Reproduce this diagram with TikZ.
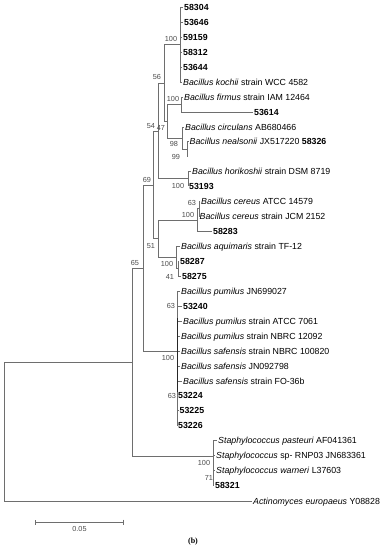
\documentclass[tikz,border=0pt]{standalone}
\usepackage{fontspec}
\setmainfont{Liberation Sans}
\newfontfamily\capfont{Liberation Serif}
\usepackage{tikz}
\usetikzlibrary{arrows.meta}
\definecolor{branch}{RGB}{110,110,110}
\definecolor{bootc}{RGB}{75,75,75}

\tikzset{
  taxon/.style={anchor=west, inner sep=1pt, text height=6pt, text depth=0pt,
    font=\fontsize{8.8}{10}\selectfont},
  bs/.style={inner sep=0pt, text=bootc, font=\fontsize{7.3}{8}\selectfont},
  br/.style={draw=branch, line width=0.8pt},
}

\begin{document}
\begin{tikzpicture}[x=1pt, y=-1pt]
  \useasboundingbox (0,0) rectangle (385,550);
  \fill[white] (0,0) rectangle (385,550);

  % Internal nodes
  \coordinate (R)   at (4,432);
  \coordinate (Nin) at (132,362.5);
  \coordinate (N65) at (143,268.5);
  \coordinate (N69) at (153,185);
  \coordinate (N54) at (158,131);
  \coordinate (N56) at (164,83);
  \coordinate (Nko) at (180,44.5);
  \coordinate (N47) at (167,121.5);
  \coordinate (Nfi) at (181,104.5);
  \coordinate (N98) at (182,138);
  \coordinate (N99) at (187,149);
  \coordinate (h58326) at (187.5,156);
  \coordinate (Nho) at (188,178.5);
  \coordinate (N51) at (158,238.5);
  \coordinate (Nce) at (197,220);
  \coordinate (N63c) at (199,208.5);
  \coordinate (Naq) at (176,257);
  \coordinate (N41) at (178,268.5);
  \coordinate (Npu) at (177,351);
  \coordinate (N63b) at (177.5,410);
  \coordinate (Nst) at (213,456.5);

  % Taxa
  \node[taxon] (t58304) at (183,7)   {\textbf{58304}};
  \node[taxon] (t53646) at (183,22)  {\textbf{53646}};
  \node[taxon] (t59159) at (182,37)  {\textbf{59159}};
  \node[taxon] (t58312) at (182,52)  {\textbf{58312}};
  \node[taxon] (t53644) at (182,67)  {\textbf{53644}};
  \node[taxon] (tkoc) at (182,82)    {\textit{Bacillus kochii} strain WCC 4582};
  \node[taxon] (tfir) at (183,97)    {\textit{Bacillus firmus} strain IAM 12464};
  \node[taxon] (t53614) at (253,112) {\textbf{53614}};
  \node[taxon] (tcir) at (184,127)   {\textit{Bacillus circulans} AB680466};
  \node[taxon] (tnea) at (188.5,141.5) {\textit{Bacillus nealsonii} JX517220 \textbf{58326}};
  \node[taxon] (thor) at (191,171)   {\textit{Bacillus horikoshii} strain DSM 8719};
  \node[taxon] (t53193) at (188,186) {\textbf{53193}};
  \node[taxon] (tcea) at (200,201)   {\textit{Bacillus cereus} ATCC 14579};
  \node[taxon] (tcej) at (198.5,216) {\textit{Bacillus cereus} strain JCM 2152};
  \node[taxon] (t58283) at (212,231) {\textbf{58283}};
  \node[taxon] (taqu) at (180,246)   {\textit{Bacillus aquimaris} strain TF-12};
  \node[taxon] (t58287) at (179,261) {\textbf{58287}};
  \node[taxon] (t58275) at (181,276) {\textbf{58275}};
  \node[taxon] (tpuj) at (180,291)   {\textit{Bacillus pumilus} JN699027};
  \node[taxon] (t53240) at (182,306) {\textbf{53240}};
  \node[taxon] (tpua) at (182,321)   {\textit{Bacillus pumilus} strain ATCC 7061};
  \node[taxon] (tpun) at (180,336)   {\textit{Bacillus pumilus} strain NBRC 12092};
  \node[taxon] (tsan) at (180,351)   {\textit{Bacillus safensis} strain NBRC 100820};
  \node[taxon] (tsaj) at (180,366)   {\textit{Bacillus safensis} JN092798};
  \node[taxon] (tsaf) at (182,381)   {\textit{Bacillus safensis} strain FO-36b};
  \node[taxon] (t53224) at (177,395) {\textbf{53224}};
  \node[taxon] (t53225) at (178.5,410) {\textbf{53225}};
  \node[taxon] (t53226) at (177,425) {\textbf{53226}};
  \node[taxon] (tstp) at (217,440.5) {\textit{Staphylococcus pasteuri} AF041361};
  \node[taxon] (tsts) at (215,455.5) {\textit{Staphylococcus} sp- RNP03 JN683361};
  \node[taxon] (tstw) at (215,470)   {\textit{Staphylococcus warneri} L37603};
  \node[taxon] (t58321) at (214,485) {\textbf{58321}};
  \node[taxon] (tact) at (252,501)   {\textit{Actinomyces europaeus} Y08828};

  % Branches
  \draw[br] (R) |- (Nin) (R) |- (tact.west);
  \draw[br] (Nin) |- (N65) (Nin) |- (Nst);
  \draw[br] (N65) |- (N69) (N65) |- (Npu);
  \draw[br] (N69) |- (N54) (N69) |- (N51);
  \draw[br] (N54) |- (N56) (N54) |- (Nho);
  \draw[br] (N56) |- (Nko) (N56) |- (N47);
  \draw[br] (Nko) |- (t58304.west) (Nko) |- (t53646.west) (Nko) |- (t59159.west)
    (Nko) |- (t58312.west) (Nko) |- (t53644.west) (Nko) |- (tkoc.west);
  \draw[br] (N47) |- (Nfi) (N47) |- (N98);
  \draw[br] (Nfi) |- (tfir.west) (Nfi) |- (t53614.west);
  \draw[br] (N98) |- (tcir.west) (N98) |- (N99);
  \draw[br] (N99) |- (tnea.west) (N99) |- (h58326);
  \draw[br] (Nho) |- (thor.west) (Nho) |- (t53193.west);
  \draw[br] (N51) |- (Nce) (N51) |- (Naq);
  \draw[br] (Nce) |- (N63c) (Nce) |- (t58283.west);
  \draw[br] (N63c) |- (tcea.west) (N63c) |- (tcej.west);
  \draw[br] (Naq) |- (taqu.west) (Naq) |- (N41);
  \draw[br] (N41) |- (t58287.west) (N41) |- (t58275.west);
  \draw[br] (Npu) |- (tpuj.west) (Npu) |- (t53240.west) (Npu) |- (tpua.west)
    (Npu) |- (tpun.west) (Npu) |- (tsan.west) (Npu) |- (tsaj.west)
    (Npu) |- (tsaf.west) (Npu) |- (N63b);
  \draw[line width=1pt, black!85] (177,318) -- (177,392);
  \draw[br] (N63b) |- (t53224.west) (N63b) |- (t53225.west) (N63b) |- (t53226.west);
  \draw[br] (Nst) |- (tstp.west) (Nst) |- (tsts.west) (Nst) |- (tstw.west)
    (Nst) |- (t58321.west);

  % Bootstrap values
  \node[bs] (b1)  at (171,39)  {100};
  \node[bs] (b2)  at (157,77)  {56};
  \node[bs] (b3)  at (173,99)  {100};
  \node[bs] (b4)  at (151,126) {54};
  \node[bs] (b5)  at (161,128) {47};
  \node[bs] (b6)  at (174,144) {98};
  \node[bs] (b7)  at (176,157) {99};
  \node[bs] (b8)  at (147,180) {69};
  \node[bs] (b9)  at (178,186) {100};
  \node[bs] (b10) at (192,203) {63};
  \node[bs] (b11) at (188,215) {100};
  \node[bs] (b12) at (151,246) {51};
  \node[bs] (b13) at (135,263) {65};
  \node[bs] (b14) at (167,264) {100};
  \node[bs] (b15) at (170,277) {41};
  \node[bs] (b16) at (171,306) {63};
  \node[bs] (b17) at (168,358) {100};
  \node[bs] (b18) at (172,396) {63};
  \node[bs] (b19) at (204,463) {100};
  \node[bs] (b20) at (209,478) {71};

  % Scale bar
  \coordinate (sbL) at (35,522);
  \coordinate (sbR) at (124,522);
  \draw[br, {Bar[width=5pt]}-{Bar[width=5pt]}] (sbL) -- (sbR)
    node[midway, below=4pt, bs] (sbtext) {0.05};

  \node[font=\capfont\bfseries\fontsize{8}{9}\selectfont, inner sep=0pt] (cap) at (193,542) {(b)};
\end{tikzpicture}
\end{document}
